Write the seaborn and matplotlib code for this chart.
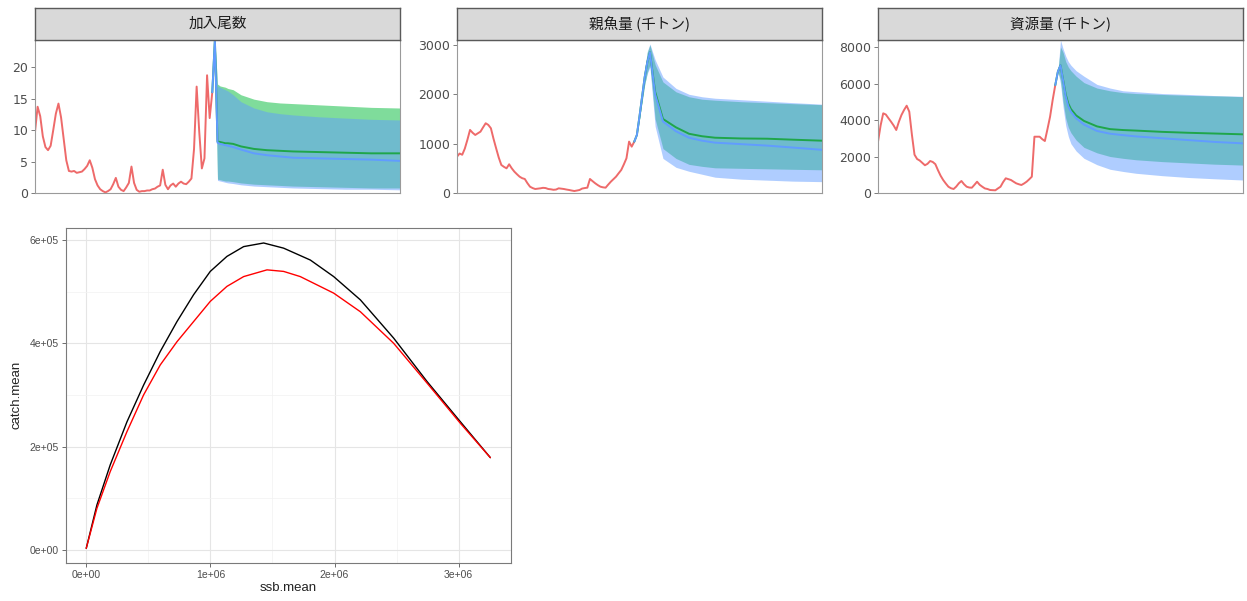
import numpy as np
import pandas as pd
import matplotlib
matplotlib.use("Agg")
import matplotlib.pyplot as plt
import seaborn as sns
from matplotlib.ticker import FuncFormatter

sns.set_theme(style="white")
plt.rcParams['font.family'] = ['Liberation Sans', 'Noto Sans CJK JP', 'DejaVu Sans']

## data: historical (1951-2019)
hist_years = list(range(1951, 2020))
rec_hist = [9.7, 13.7, 12.2, 9.0, 7.3, 6.8, 7.5, 10.0, 12.6, 14.2,
            12.0, 8.6, 5.2, 3.5, 3.4, 3.5, 3.2, 3.3, 3.4, 3.8,
            4.3, 5.2, 4.0, 2.2, 1.2, 0.6, 0.3, 0.1, 0.3, 0.6,
            1.4, 2.4, 1.0, 0.5, 0.3, 0.9, 1.6, 4.2, 1.6, 0.5,
            0.2, 0.3, 0.3, 0.4, 0.4, 0.6, 0.7, 1.0, 1.2, 3.7,
            1.3, 0.6, 1.2, 1.5, 1.0, 1.5, 1.8, 1.5, 1.4, 1.8,
            2.3, 7.0, 16.9, 9.7, 3.9, 5.5, 18.7, 11.9, 16.0]
ssb_hist = [736, 800, 775, 900, 1080, 1278, 1220, 1176, 1210, 1243,
            1330, 1413, 1380, 1312, 1100, 907, 720, 568, 530, 500,
            582, 500, 433, 380, 331, 300, 284, 200, 128, 100,
            81, 88, 95, 105, 100, 81, 75, 65, 70, 95,
            88, 81, 70, 61, 50, 40, 50, 61, 90, 100,
            108, 284, 240, 197, 160, 128, 115, 108, 170, 229,
            280, 331, 400, 467, 580, 704, 1041, 939, 1041]
bio_hist = [2811, 3700, 4367, 4300, 4100, 3907, 3700, 3452, 3900, 4274,
            4550, 4784, 4455, 3200, 2100, 1863, 1780, 1650, 1520, 1600,
            1753, 1700, 1580, 1250, 950, 712, 520, 345, 260, 219,
            350, 531, 658, 480, 345, 300, 290, 450, 619, 450,
            345, 250, 219, 164, 155, 148, 250, 345, 600, 805,
            760, 712, 620, 531, 480, 438, 520, 619, 750, 893,
            3085, 3085, 3085, 2950, 2849, 3500, 4181, 5100, 5918]

## data: projections (two scenarios, median + band)
proj_years = [2019, 2020, 2021, 2022, 2023, 2024, 2025, 2027, 2030, 2035,
              2040, 2045, 2050, 2060, 2070, 2080, 2091]

rec_g_med = [16.0, 24.3, 8.2, 8.1, 8.0, 7.9, 7.9, 7.8, 7.4, 7.0, 6.8, 6.7, 6.6, 6.5, 6.4, 6.3, 6.3]
rec_b_med = [16.0, 24.3, 8.0, 7.8, 7.7, 7.6, 7.5, 7.3, 6.9, 6.3, 6.0, 5.8, 5.6, 5.5, 5.4, 5.3, 5.1]
rec_g_hi = [16.0, 24.3, 17.3, 17.0, 16.9, 16.8, 16.6, 16.4, 15.6, 14.9, 14.5, 14.3, 14.2, 14.0, 13.8, 13.6, 13.5]
rec_g_lo = [16.0, 24.3, 2.2, 2.1, 2.0, 1.9, 1.9, 1.8, 1.6, 1.4, 1.3, 1.2, 1.1, 1.0, 0.9, 0.8, 0.8]
rec_b_hi = [16.0, 24.3, 17.0, 16.8, 16.6, 16.4, 16.2, 15.6, 14.5, 13.5, 12.9, 12.6, 12.4, 12.1, 11.9, 11.7, 11.6]
rec_b_lo = [16.0, 24.3, 2.0, 1.9, 1.8, 1.7, 1.6, 1.5, 1.3, 1.1, 1.0, 0.9, 0.8, 0.7, 0.6, 0.6, 0.5]

ssb_g_med = [1041, 1176, 1550, 1950, 2350, 2650, 2850, 2050, 1500, 1330, 1200, 1150, 1120, 1105, 1100, 1080, 1060]
ssb_b_med = [1041, 1176, 1550, 1950, 2350, 2650, 2850, 2000, 1450, 1250, 1120, 1060, 1020, 990, 960, 920, 875]
ssb_g_hi = [1041, 1176, 1600, 2050, 2500, 2850, 3000, 2600, 2250, 2050, 1950, 1900, 1880, 1850, 1830, 1810, 1790]
ssb_g_lo = [1041, 1176, 1500, 1850, 2200, 2450, 2600, 1500, 900, 700, 580, 540, 510, 500, 490, 480, 470]
ssb_b_hi = [1041, 1176, 1600, 2060, 2520, 2870, 3020, 2700, 2350, 2120, 2000, 1950, 1920, 1890, 1860, 1830, 1800]
ssb_b_lo = [1041, 1176, 1500, 1850, 2200, 2420, 2550, 1350, 700, 520, 440, 380, 320, 280, 260, 240, 230]

bio_g_med = [5918, 6650, 7000, 6200, 5400, 4900, 4600, 4250, 3950, 3650, 3500, 3450, 3420, 3350, 3300, 3260, 3215]
bio_b_med = [5918, 6650, 7000, 6150, 5300, 4750, 4450, 4100, 3750, 3400, 3250, 3170, 3100, 3000, 2900, 2800, 2720]
bio_g_hi = [5918, 6650, 8000, 7700, 7200, 6900, 6700, 6400, 6050, 5750, 5600, 5500, 5450, 5400, 5350, 5320, 5280]
bio_g_lo = [5918, 6650, 6200, 5000, 4100, 3600, 3300, 2900, 2500, 2200, 2000, 1900, 1820, 1720, 1650, 1580, 1530]
bio_b_hi = [5918, 6650, 8380, 7900, 7500, 7200, 7000, 6700, 6400, 5950, 5750, 5600, 5550, 5450, 5400, 5340, 5300]
bio_b_lo = [5918, 6650, 6000, 4700, 3700, 3100, 2700, 2300, 1900, 1550, 1300, 1180, 1080, 950, 850, 780, 712]

panel_titles = ["加入尾数", "親魚量 (千トン)", "資源量 (千トン)"]

## data: yield curve
ssb_black = [0, 0.086e6, 0.193e6, 0.328e6, 0.462e6, 0.596e6, 0.731e6, 0.865e6, 0.999e6, 1.133e6,
             1.268e6, 1.429e6, 1.590e6, 1.805e6, 1.993e6, 2.208e6, 2.476e6, 2.745e6, 3.014e6, 3.255e6]
catch_black = [3.2e3, 0.871e5, 1.645e5, 2.48e5, 3.19e5, 3.84e5, 4.42e5, 4.94e5, 5.39e5, 5.68e5,
               5.87e5, 5.94e5, 5.84e5, 5.61e5, 5.29e5, 4.84e5, 4.10e5, 3.26e5, 2.48e5, 1.787e5]
ssb_red = [0, 0.086e6, 0.193e6, 0.328e6, 0.462e6, 0.596e6, 0.731e6, 0.865e6, 0.999e6, 1.133e6,
           1.268e6, 1.456e6, 1.590e6, 1.724e6, 1.993e6, 2.208e6, 2.476e6, 2.745e6, 3.014e6, 3.255e6]
catch_red = [3.2e3, 0.806e5, 1.516e5, 2.29e5, 3.0e5, 3.58e5, 4.03e5, 4.42e5, 4.81e5, 5.10e5,
             5.29e5, 5.42e5, 5.39e5, 5.29e5, 4.97e5, 4.61e5, 4.00e5, 3.23e5, 2.45e5, 1.787e5]

RED = "#EE6A6A"
GREEN = "#00BA38"
BLUE = "#619CFF"

W, H = 1247, 601
fig = plt.figure(figsize=(W / 100, H / 100), dpi=100)

panels = [
    (35, rec_hist, rec_g_med, rec_b_med, rec_g_lo, rec_g_hi, rec_b_lo, rec_b_hi, 24.3, [0, 5, 10, 15, 20]),
    (457, ssb_hist, ssb_g_med, ssb_b_med, ssb_g_lo, ssb_g_hi, ssb_b_lo, ssb_b_hi, 3100, [0, 1000, 2000, 3000]),
    (878, bio_hist, bio_g_med, bio_b_med, bio_g_lo, bio_g_hi, bio_b_lo, bio_b_hi, 8384, [0, 2000, 4000, 6000, 8000]),
]

for i, (left, hist, g_med, b_med, g_lo, g_hi, b_lo, b_hi, ytop, yticks) in enumerate(panels):
    ax = fig.add_axes([left / W, 1 - 193 / H, 365 / W, 153 / H])
    ax.fill_between(proj_years, g_lo, g_hi, color=GREEN, alpha=0.5, lw=0)
    ax.fill_between(proj_years, b_lo, b_hi, color=BLUE, alpha=0.5, lw=0)
    sns.lineplot(x=hist_years, y=hist, ax=ax, color=RED, lw=1.4)
    sns.lineplot(x=proj_years, y=g_med, ax=ax, color="#1FA64A", lw=1.4)
    sns.lineplot(x=proj_years, y=b_med, ax=ax, color=BLUE, lw=1.4)
    ax.set_xlim(1951, 2091)
    ax.set_ylim(0, ytop)
    ax.set_yticks(yticks)
    ax.set_yticklabels([str(t) for t in yticks], family=["DejaVu Sans"])
    ax.set_xticks([])
    ax.set_xlabel("")
    ax.set_ylabel("")
    ax.tick_params(axis="y", left=True, length=3, width=0.6, color="#666666",
                   labelsize=9, labelcolor="#4D4D4D", pad=2)
    for s in ax.spines.values():
        s.set_color("#9A9A9A")
        s.set_linewidth(0.8)

    # facet strip
    sax = fig.add_axes([left / W, 1 - 40 / H, 365 / W, 32 / H])
    sax.set_facecolor("#D9D9D9")
    sax.set_xticks([])
    sax.set_yticks([])
    for s in sax.spines.values():
        s.set_color("#5A5A5A")
        s.set_linewidth(1.0)
    sax.text(0.5, 0.5, panel_titles[i], ha="center", va="center", fontsize=10.5,
             color="#1A1A1A", family=["Noto Sans CJK JP", "DejaVu Sans"])

## bottom: catch vs ssb
ax = fig.add_axes([66 / W, 1 - 562.7 / H, 444.7 / W, 334.7 / H])
ax.set_facecolor("white")
sns.lineplot(x=ssb_black, y=catch_black, ax=ax, color="black", lw=1.0, sort=False, estimator=None)
sns.lineplot(x=ssb_red, y=catch_red, ax=ax, color="red", lw=1.0, sort=False, estimator=None)
ax.set_xlim(-0.163e6, 3.419e6)
ax.set_ylim(-2.46e4, 6.23e5)
ax.set_xticks([0, 1e6, 2e6, 3e6])
ax.set_yticks([0, 2e5, 4e5, 6e5])
ax.set_xticks([0.5e6, 1.5e6, 2.5e6], minor=True)
ax.set_yticks([1e5, 3e5, 5e5], minor=True)
fmt = FuncFormatter(lambda v, p: "{:.0e}".format(v))
ax.xaxis.set_major_formatter(fmt)
ax.yaxis.set_major_formatter(fmt)
ax.grid(True, which="major", color="#E5E5E5", lw=0.8)
ax.grid(True, which="minor", color="#F2F2F2", lw=0.5)
ax.set_axisbelow(True)
ax.tick_params(axis="both", which="major", length=3, width=0.6, color="#555555",
               labelsize=7.5, labelcolor="#4D4D4D", pad=2, bottom=True, left=True)
ax.tick_params(axis="both", which="minor", length=0)
ax.set_xlabel("ssb.mean", fontsize=9.5, color="#222222", labelpad=2)
ax.set_ylabel("catch.mean", fontsize=9.5, color="#222222", labelpad=5)
for s in ax.spines.values():
    s.set_color("#7A7A7A")
    s.set_linewidth(0.8)

plt.savefig("out.png", dpi=100)
plt.close()
